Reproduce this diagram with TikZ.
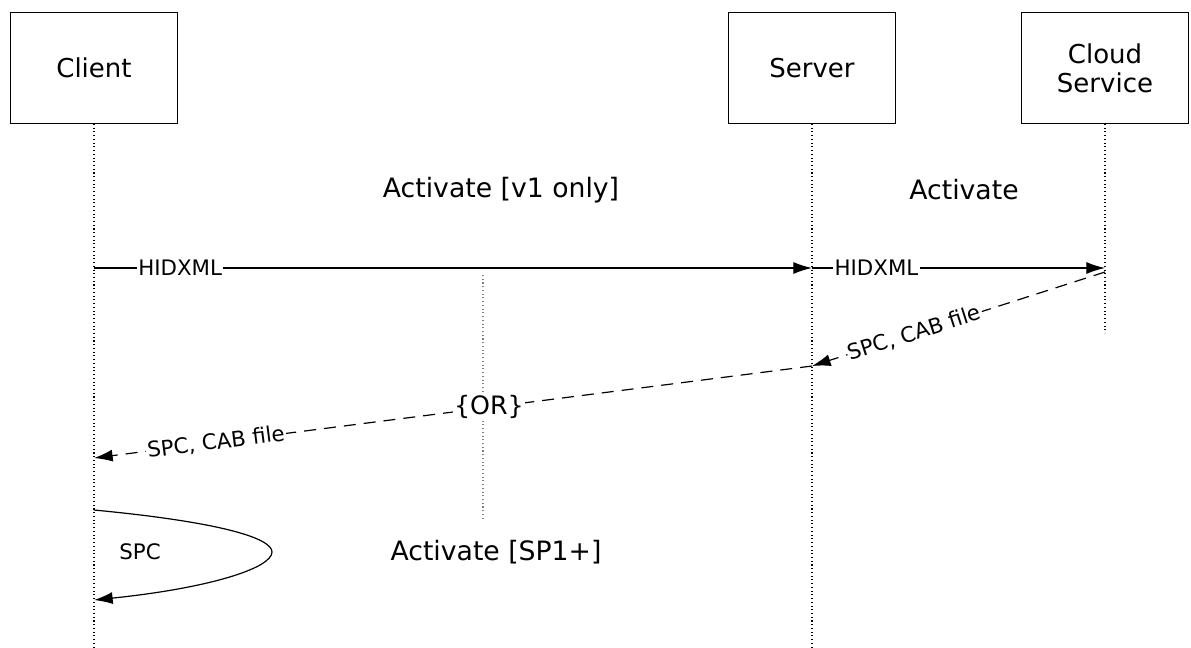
\documentclass[tikz,border=0pt]{standalone}
\usepackage{fontspec}
\setmainfont{DejaVu Sans}
\usetikzlibrary{arrows.meta}
\usetikzlibrary{positioning}
\usetikzlibrary{calc}

\begin{document}
\begin{tikzpicture}[x=0.75pt,y=-0.75pt,>={Latex[length=14pt,width=9pt]},
                    actor node/.style={rectangle,draw,line width=0.9pt,minimum width=125pt,minimum height=83pt,align=center,font=\fontsize{19.5}{22}\selectfont},
                    life line/.style={dotted,line width=0.8pt},
                    msg/.style={->,line width=0.9pt},
                    reply/.style={->,line width=0.9pt,dash pattern=on 9pt off 6pt},
                    msg label/.style={fill=white,inner sep=1pt,font=\fontsize{16}{18}\selectfont},
                    note/.style={font=\fontsize{20}{22}\selectfont}]

  \useasboundingbox (0,0) rectangle (1191,647);

  \node[actor node] (client) at (94,68) {Client};
  \node[actor node] (server) at (812,68) {Server};
  \node[actor node] (cloud) at (1105,68) {Cloud\\Service};

  % life lines
  \coordinate (client end) at (94,647);
  \coordinate (server end) at (812,647);
  \coordinate (cloud end) at (1105,333);
  \draw[life line] (client) -- (client end);
  \draw[life line] (server) -- (server end);
  \draw[life line] (cloud) -- (cloud end);

  % separator between the two cases
  \coordinate (sep top) at (483,275);
  \coordinate (sep bottom) at (483,520);
  \draw[dotted,line width=0.8pt,gray] (sep top) -- (sep bottom);

  \node[note] (v1) at (501,190) {Activate [v1 only]};
  \node[note] (act) at (964,190) {Activate};
  \node[note] (sp1) at (496,552) {Activate [SP1+]};

  % message points
  \coordinate (c1) at (94,268);
  \coordinate (s1) at (812,268);
  \coordinate (k1) at (1105,268);
  \coordinate (k2) at (1105,272);
  \coordinate (s2) at (812,366);
  \coordinate (c2) at (94,458);
  \coordinate (c3) at (94,510);
  \coordinate (c4) at (94,600);

  \draw[msg] (c1) -- node[msg label,pos=0.12] {HIDXML} (s1);
  \draw[msg] (s1) -- node[msg label,pos=0.22] {HIDXML} (k1);
  \draw[reply] (k2) -- node[msg label,sloped,pos=0.65] {SPC, CAB file} (s2);
  \draw[reply] (s2) -- node[msg label,pos=0.45] {\fontsize{19}{22}\selectfont\{OR\}} node[msg label,sloped,pos=0.83] {SPC, CAB file} (c2);

  % self call
  \draw[msg] (c3) .. controls (220,522) and (272,538) .. (272,552) .. controls (272,568) and (210,588) .. node[msg label,pos=0.0,fill=none,anchor=east,xshift=-82pt] {SPC} (c4);
\end{tikzpicture}
\end{document}
